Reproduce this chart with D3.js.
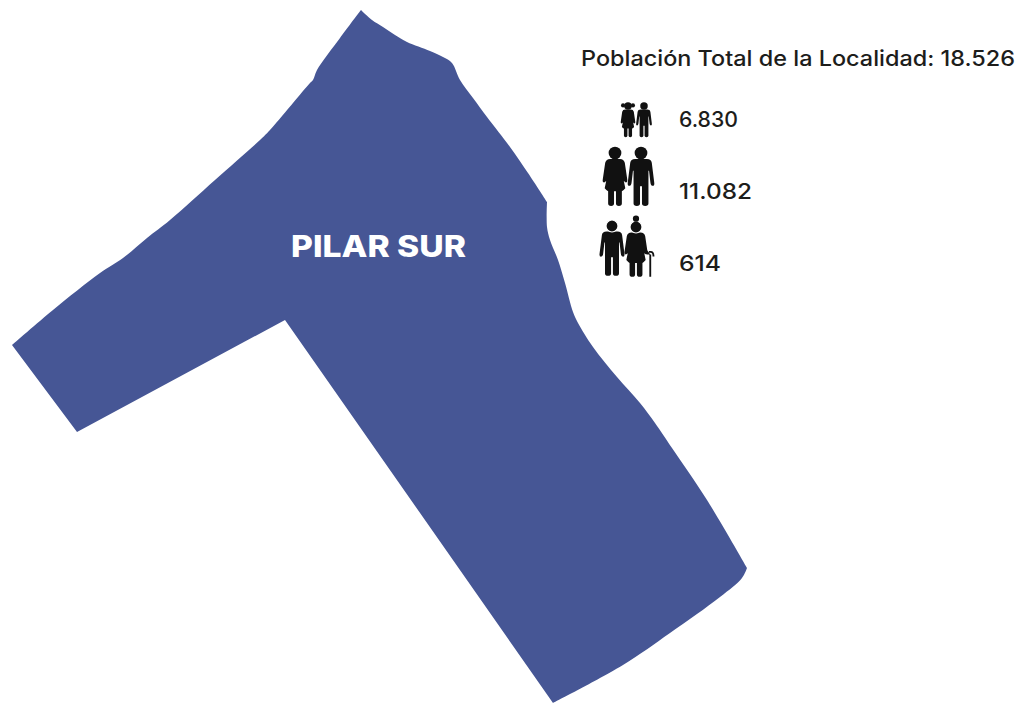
<!DOCTYPE html>
<html>
<head>
<meta charset="utf-8">
<script src="https://cdn.jsdelivr.net/npm/d3@7"></script>
<style>
  html, body { margin: 0; background: #fff; }
  text { font-family: Inter, "Open Sans", sans-serif; }
</style>
</head>
<body>
<div id="container"></div>
<script>
/* global d3*/

const width = 1029;
const height = 704;

// locality outline
const boundaryX = [361, 372, 383, 395, 407, 430, 443, 452, 460, 473, 487, 510, 528, 547, 547, 550, 558, 565, 573, 578, 593, 617, 640, 655, 672, 707, 747, 742, 720, 670, 623, 553, 285, 77, 12, 53, 100, 123, 147, 170, 215, 260, 270, 310, 313, 317, 340, 361];
const boundaryY = [10, 20, 27, 35, 42, 51, 57, 63, 80, 98, 117, 147, 173, 202, 227, 240, 260, 283, 312, 323, 347, 377, 403, 423, 448, 500, 568, 578, 597, 633, 665, 703, 320, 432, 345, 310, 273, 258, 238, 220, 180, 140, 130, 83, 80, 70, 38, 10];
// indexes of the sharp corners of the outline
const boundaryCorners = [0, 13, 26, 31, 32, 33, 34, 47];

const localityName = "PILAR SUR";
const titleLabel = "Población Total de la Localidad: 18.526";
const groupValues = ["6.830", "11.082", "614"];
const groupIcons = ["children", "adults", "elders"];

const blue = "#465695";
const ink = "#1d1d1b";

// map units are picture pixels here
const xScale = d3.scaleLinear([0, width], [0, width]);
const yScale = d3.scaleLinear([0, height], [0, height]);

const svg = d3
  .select("#container")
  .append("svg")
  .attr("width", width)
  .attr("height", height)
  .style("display", "block");

const outline = d3
  .line()
  .x((d) => xScale(d[0]))
  .y((d) => yScale(d[1]))
  .curve(d3.curveCatmullRom.alpha(0.5));

const boundary = d3.zip(boundaryX, boundaryY);

// smooth between corners, keep the corners sharp
const outlinePath = d3
  .pairs(boundaryCorners)
  .map(([a, b], i) => {
    const run = outline(boundary.slice(a, b + 1));
    return i === 0 ? run : "L" + run.slice(1);
  })
  .join("");

svg
  .append("path")
  .attr("d", outlinePath + "Z")
  .attr("fill", blue);

svg
  .append("text")
  .attr("x", 291)
  .attr("y", 257)
  .attr("textLength", 175)
  .attr("lengthAdjust", "spacingAndGlyphs")
  .attr("font-size", 30)
  .attr("font-weight", 800)
  .attr("fill", "#fff")
  .text(localityName);

svg
  .append("text")
  .attr("x", 581)
  .attr("y", 66)
  .attr("textLength", 434)
  .attr("lengthAdjust", "spacingAndGlyphs")
  .attr("font-size", 21)
  .attr("font-weight", 450)
  .attr("fill", ink)
  .text(titleLabel);

// value labels
const labelY = [127, 199, 271];
const labelLen = [59, 73, 42];
svg
  .selectAll(".value")
  .data(groupValues)
  .enter()
  .append("text")
  .attr("class", "value")
  .attr("x", 679)
  .attr("y", (d, i) => labelY[i])
  .attr("textLength", (d, i) => labelLen[i])
  .attr("lengthAdjust", "spacingAndGlyphs")
  .attr("font-size", 21)
  .attr("font-weight", 450)
  .attr("fill", ink)
  .text((d) => d);

// pictograms, head centre at 0,0 and feet near y=54
const manBody =
  "M-6,6 H6 Q10.5,6 11,10 L13.5,30 Q14,33.5 12,33.5 Q10,33.5 9.6,30 L8.2,18 H7.6 V51.5 Q7.6,54 4.3,54 Q1,54 1,51.5 V34 H-1 V51.5 Q-1,54 -4.3,54 Q-7.6,54 -7.6,51.5 V18 H-8.2 L-9.6,30 Q-10,33.5 -12,33.5 Q-14,33.5 -13.5,30 L-11,10 Q-10.5,6 -6,6 Z";
const womanBody =
  "M-5,6 H5 Q9,6 10,10 L12.5,27 Q13,30 11,30 L9,28.5 L10.5,36 Q8,39 7,39 V51.5 Q7,54 4,54 Q1,54 1,51.5 V39 H-1 V51.5 Q-1,54 -4,54 Q-7,54 -7,51.5 V39 Q-8,39 -10.5,36 L-9,28.5 L-11,30 Q-13,30 -12.5,27 L-10,10 Q-9,6 -5,6 Z";
const cane = "M11,24 L15.5,30 H12 Z M14.5,54 V30 H16.5 V54 Z M14,26 H16 Q20,26 20,32 H18 Q18,28 16,28 H14 Z";

const person = (g, body, x, y, s, extras) => {
  const p = g.append("g").attr("transform", `translate(${x},${y}) scale(${s})`);
  p.append("path").attr("d", body);
  p.append("circle").attr("r", 6.5);
  if (extras) extras(p);
};

const pigtails = (p) => {
  p.append("circle").attr("cx", -8.5).attr("cy", -1).attr("r", 3.6);
  p.append("circle").attr("cx", 8.5).attr("cy", -1).attr("r", 3.6);
};
const collar = (p) => {
  p.select("circle").attr("stroke", "#fff").attr("stroke-width", 1.2);
};
const elderWoman = (p) => {
  collar(p);
  p.append("circle").attr("cy", -9).attr("r", 3.4);
  p.append("path").attr("d", cane);
};

const drawIcon = {
  children: (g) => {
    person(g, womanBody, 628, 106, 0.58, pigtails);
    person(g, manBody, 644, 106, 0.58);
  },
  adults: (g) => {
    person(g, womanBody, 615, 153, 0.98);
    person(g, manBody, 641, 153, 0.98);
  },
  elders: (g) => {
    person(g, manBody, 612, 226, 0.92, collar);
    person(g, womanBody, 636, 227, 0.92, elderWoman);
  },
};

groupIcons.forEach((name) => {
  const g = svg.append("g").attr("class", "icon").attr("fill", "#111");
  drawIcon[name](g);
});
</script>
</body>
</html>
